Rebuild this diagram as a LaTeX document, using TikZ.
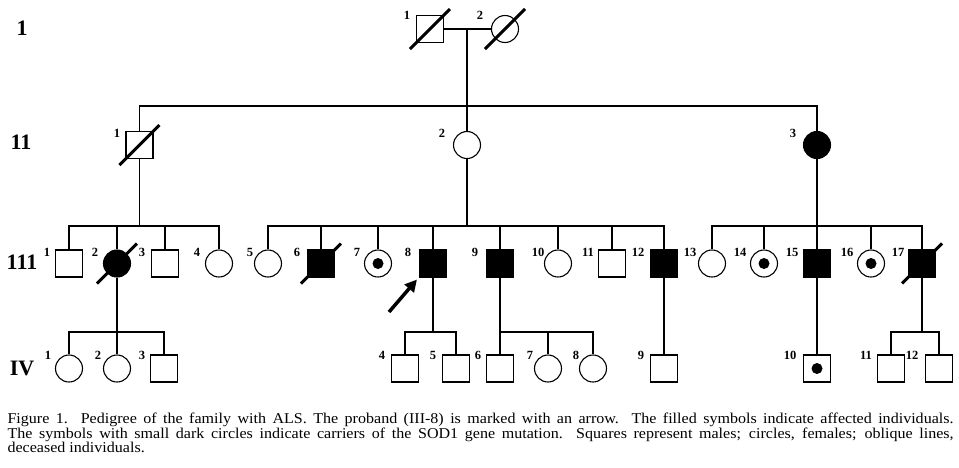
\documentclass[tikz,border=0pt]{standalone}
\usepackage{fontspec}
\setmainfont{Liberation Serif}
\newfontfamily\capfont{Liberation Serif}[FakeStretch=1.07]
\usetikzlibrary{arrows.meta}

\begin{document}
\begin{tikzpicture}[x=1pt, y=-1pt,
    line width=1.1pt,
    person/.style={draw, inner sep=0pt, minimum size=27pt, line width=1.1pt},
    male/.style={person, rectangle},
    female/.style={person, circle},
    male aff/.style={male, fill=black},
    female aff/.style={female, fill=black},
    carrier/.style={path picture={\fill (path picture bounding box.center) circle (5.5pt);}},
    male car/.style={male, carrier},
    female car/.style={female, carrier},
    num/.style={font=\fontsize{12.5}{12.5}\selectfont\bfseries, inner sep=0pt, anchor=base},
    gen/.style={font=\fontsize{22}{24}\selectfont\bfseries, inner sep=0pt},
    dead/.style={line width=3pt},
    proband/.style={line width=3.5pt, -{Triangle[length=12pt,width=12pt]}},
    caption/.style={inner sep=0pt, anchor=base west,
        font=\capfont\fontsize{15}{15}\selectfont}
]
    \useasboundingbox (0,0) rectangle (959,467);

    % Generation labels
    \node[gen] (gI)   at (22,28)  {1};
    \node[gen] (gII)  at (21,142) {11};
    \node[gen] (gIII) at (22,262) {111};
    \node[gen] (gIV)  at (22,368) {IV};

    % Generation I
    \node[male]   (I1) at (430,29) {};
    \node[female] (I2) at (505,29) {};
    \node[num] (lI1) at (407,19) {1};
    \node[num] (lI2) at (480,19) {2};

    % Generation II
    \foreach \n/\x/\s/\lx in {1/139.5/male/117, 2/467/female/442, 3/817/female aff/793}{
        \node[\s] (II\n) at (\x,145) {};
        \node[num] (lII\n) at (\lx,137) {\n};
    }

    % Generation III
    \foreach \n/\x/\s/\lx in {1/69/male/47, 2/117/female aff/95, 3/165/male/142,
        4/219/female/197, 5/268/female/250, 6/321/male aff/297,
        7/378/female car/357, 8/433/male aff/408, 9/500/male aff/475,
        10/558/female/538, 11/612/male/588, 12/664/male aff/638,
        13/712/female/690, 14/764/female car/740, 15/817/male aff/792,
        16/871/female car/847, 17/922/male aff/898}{
        \node[\s] (III\n) at (\x,263.5) {};
        \node[num] (lIII\n) at (\lx,256) {\n};
    }

    % Generation IV
    \foreach \n/\x/\s/\lx in {1/69/female/48, 2/117/female/98, 3/164/male/142,
        4/405/male/382, 5/456/male/433, 6/500/male/478,
        7/548/female/530, 8/593/female/576, 9/664/male/641,
        10/817/male car/790, 11/891/male/866, 12/939/male/912}{
        \node[\s] (IV\n) at (\x,368.5) {};
        \node[num] (lIV\n) at (\lx,359) {\n};
    }

    % Sibship lines
    \coordinate (c1) at (467,29);
    \coordinate (s1) at (467,106);
    \coordinate (s2) at (139.5,226);
    \coordinate (s3) at (467,226);
    \coordinate (s4) at (817,226);
    \coordinate (s5) at (117,332);
    \coordinate (s6) at (433,332);
    \coordinate (s7) at (500,332);
    \coordinate (s8) at (922,332);

    \draw (I1) -- (I2);
    \draw (c1) -- (II2.north);
    \draw (II1.north) |- (s1) -| (II3.north);

    \draw (II1.south) -- (s2);
    \draw (III1.north) |- (s2) -| (III4.north);
    \foreach \k in {2,3}
        \draw (III\k.north) -- (III\k.north |- s2);

    \draw (II2.south) -- (s3);
    \draw (III5.north) |- (s3) -| (III12.north);
    \foreach \k in {6,...,11}
        \draw (III\k.north) -- (III\k.north |- s3);

    \draw (II3.south) -- (s4);
    \draw (III13.north) |- (s4) -| (III17.north);
    \foreach \k in {14,15,16}
        \draw (III\k.north) -- (III\k.north |- s4);

    \draw (III2.south) -- (s5);
    \draw (IV1.north) |- (s5) -| (IV3.north);
    \draw (IV2.north) -- (s5);

    \draw (III8.south) -- (s6);
    \draw (IV4.north) |- (s6) -| (IV5.north);

    \draw (III9.south) -- (s7);
    \draw (IV6.north) |- (s7) -| (IV8.north);
    \draw (IV7.north) -- (IV7.north |- s7);

    \draw (III12) -- (IV9);
    \draw (III15) -- (IV10);

    \draw (III17.south) -- (s8);
    \draw (IV11.north) |- (s8) -| (IV12.north);

    % Deceased
    \foreach \p in {I1,I2,II1,III2,III6,III17}
        \draw[dead] ([shift={(-20,20)}]\p.center) -- ([shift={(20,-20)}]\p.center);

    % Proband
    \coordinate (pb) at (389,312);
    \draw[proband] (pb) -- ([shift={(-2,2)}]III8.south west);

    % Caption
    \node[caption] (cap1) at (7,423) {\makebox[946pt][s]{Figure 1.\ \ Pedigree of the family with ALS. The proband (III-8) is marked with an arrow. The filled symbols indicate affected individuals.}};
    \node[caption] (cap2) at (7,438) {\makebox[946pt][s]{The symbols with small dark circles indicate carriers of the SOD1 gene mutation. Squares represent males; circles, females; oblique lines,}};
    \node[caption] (cap3) at (7,452.5) {deceased individuals.};
\end{tikzpicture}
\end{document}
